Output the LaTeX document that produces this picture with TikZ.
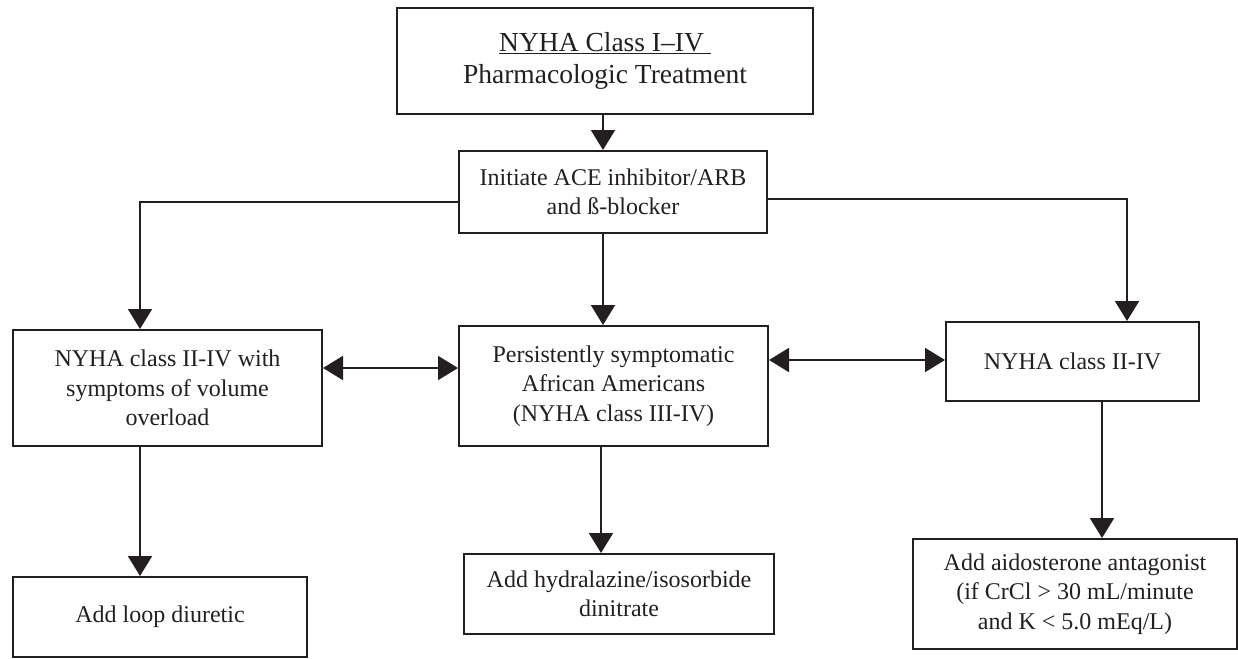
\documentclass[tikz,border=0pt]{standalone}
\usepackage{fontspec}
\setmainfont{Liberation Serif}
\usetikzlibrary{arrows.meta}
\definecolor{ink}{HTML}{231F20}
\begin{document}
\begin{tikzpicture}[x=1pt,y=-1pt,
  box/.style={draw=ink, line width=2pt, inner sep=0pt, align=center, anchor=north west,
    text=ink, font=\fontsize{24}{29.5}\selectfont},
  conn/.style={draw=ink, line width=2pt, -{Triangle[width=24pt,length=20pt]}},
  dconn/.style={draw=ink, line width=2pt, {Triangle[width=24pt,length=20pt]}-{Triangle[width=24pt,length=20pt]}}]
\useasboundingbox (0,0) rectangle (1238,658);

\node[box, minimum width=416pt, minimum height=106pt, font=\fontsize{27.5}{32}\selectfont] (top) at (396,7)
  {\underline{NYHA Class I–IV\ }\\Pharmacologic Treatment};
\node[box, minimum width=308pt, minimum height=82pt] (ace) at (458,150)
  {Initiate ACE inhibitor/ARB\\and ß-blocker};
\node[box, minimum width=309pt, minimum height=116pt] (left) at (12,329)
  {NYHA class II-IV with\\symptoms of volume\\overload};
\node[box, minimum width=309pt, minimum height=120pt] (mid) at (458,325)
  {Persistently symptomatic\\African Americans\\(NYHA class III-IV)};
\node[box, minimum width=253pt, minimum height=79pt] (right) at (945,321)
  {NYHA class II-IV};
\node[box, minimum width=294pt, minimum height=80pt] (bl) at (12,576)
  {Add loop diuretic};
\node[box, minimum width=310pt, minimum height=80pt] (bm) at (463,553)
  {Add hydralazine/isosorbide\\dinitrate};
\node[box, minimum width=324pt, minimum height=110pt] (br) at (912,538)
  {Add aidosterone antagonist\\(if CrCl > 30 mL/minute\\and K < 5.0 mEq/L)};

\draw[conn] (top.south -| 603,0) -- (ace.north -| 603,0);
\draw[conn] (ace.west |- 0,202) -| (left.north -| 140,0);
\draw[conn] (ace.east |- 0,199) -| (right.north -| 1127,0);
\draw[conn] (ace.south -| 603,0) -- (mid.north -| 603,0);
\draw[dconn] (left.east |- 0,368) -- (mid.west |- 0,368);
\draw[dconn] (mid.east |- 0,360) -- (right.west |- 0,360);
\draw[conn] (left.south -| 140,0) -- (bl.north -| 140,0);
\draw[conn] (mid.south -| 601,0) -- (bm.north -| 601,0);
\draw[conn] (right.south -| 1102,0) -- (br.north -| 1102,0);
\end{tikzpicture}
\end{document}
